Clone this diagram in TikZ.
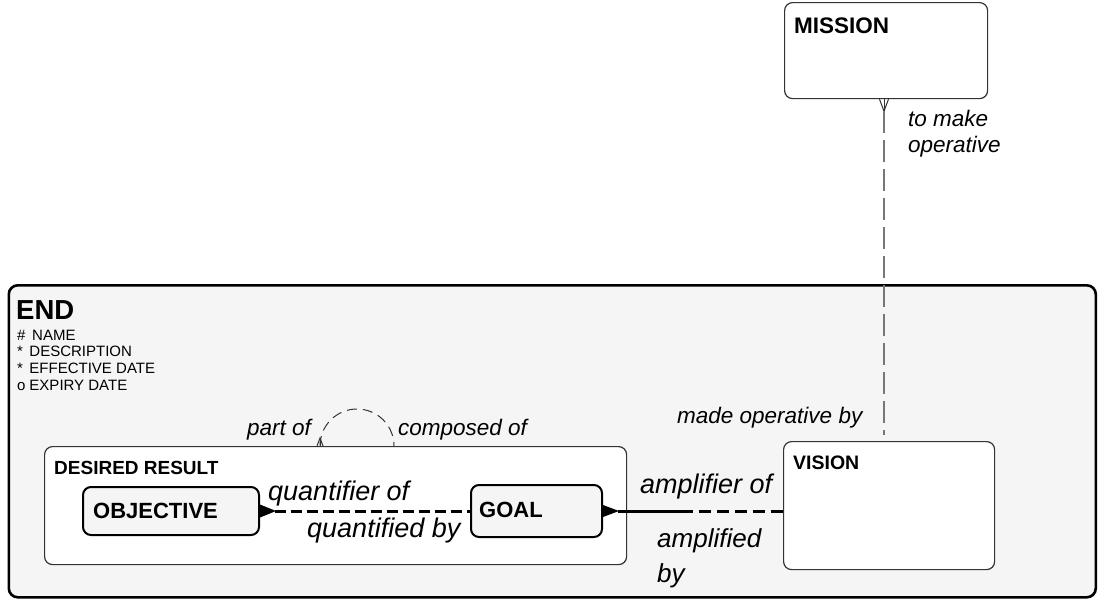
\documentclass[tikz,border=0pt]{standalone}
\usepackage{fontspec}
\setmainfont{Liberation Sans}
\usetikzlibrary{calc}
\definecolor{endfill}{HTML}{F5F5F5}
\definecolor{boxline}{HTML}{333333}
\definecolor{grayline}{HTML}{777777}
\newcommand\myfs[1]{\fontsize{#1}{#1}\selectfont}
\begin{document}
\begin{tikzpicture}[x=1pt,y=-1pt,
  ent/.style={draw=boxline, line width=1.2pt, rounded corners=8pt, fill=white, inner sep=0pt, anchor=north west},
  subent/.style={draw=black, line width=2pt, rounded corners=8pt, fill=endfill, inner sep=0pt, anchor=north west},
  lbl/.style={anchor=base west, inner sep=0pt},
  title/.style={lbl, font=\bfseries\myfs{#1}},
  rel/.style={lbl, font=\itshape\myfs{#1}},
  attr/.style={lbl, font=\myfs{15}},
  heavy/.style={line width=3pt, draw=black},
  crowfill/.style={fill=black},
  thincrow/.style={draw=boxline, line width=1pt},
  optline/.style={draw=grayline, line width=1.4pt, dash pattern=on 22pt off 7pt},
  loopline/.style={draw=boxline, line width=1pt, dash pattern=on 10pt off 6pt}
]
\useasboundingbox (0,0) rectangle (1098,606);

% END supertype box
\node[ent, draw=black, line width=2.6pt, fill=endfill, rounded corners=9pt,
      minimum width=1087pt, minimum height=312pt] (endbox) at (7.5,284) {};
\node[title=27.5] (endtitle) at (16,319) {END};
\node[attr] (a1) at (17,340) {\makebox[15pt][l]{\#}NAME};
\node[attr] (a2) at (17,356.5) {\makebox[12.3pt][l]{*}DESCRIPTION};
\node[attr] (a3) at (17,373) {\makebox[12.3pt][l]{*}EFFECTIVE DATE};
\node[attr] (a4) at (17,390) {\makebox[12.3pt][l]{o}EXPIRY DATE};

% MISSION
\node[ent, minimum width=203pt, minimum height=96pt] (mission) at (784,2) {};
\node[title=22.5] (missiont) at (794,33) {MISSION};

% VISION
\node[ent, minimum width=211pt, minimum height=128pt] (vision) at (783,441) {};
\node[title=19.5] (visiont) at (793,469) {VISION};

% DESIRED RESULT
\node[ent, minimum width=582pt, minimum height=118pt] (dr) at (44,446) {};
\node[title=19] (drt) at (54,474) {DESIRED RESULT};

% OBJECTIVE and GOAL
\node[subent, minimum width=176pt, minimum height=48pt] (obj) at (82,486) {};
\node[title=22] (objt) at (93,518) {OBJECTIVE};
\node[subent, minimum width=131pt, minimum height=52pt] (goal) at (470,484) {};
\node[title=22] (goalt) at (479,517) {GOAL};

% MISSION -- VISION
\coordinate (vx) at (884,0);
\coordinate (mb) at (mission.south -| vx);
\coordinate (vt) at ($(vision.north -| vx)+(0,-6)$);
\draw[thincrow] (mb) ++(-4.5,0) -- ++(4.5,12) -- ++(4.5,-12);
\draw[thincrow] (mb) -- ++(0,12);
\draw[optline] ($(mb)+(0,12)$) -- (vt);
\node[rel=22.5] (l1a) at (908,126) {to make};
\node[rel=22.5] (l1b) at (908,152) {operative};
\node[rel=22.5] (l2) at (677,423) {made operative by};

% recursive loop on DESIRED RESULT
\coordinate (lx) at (320,0);
\coordinate (lb) at (dr.north -| lx);
\draw[loopline] (lb) arc[start angle=180, end angle=360, radius=37];
\draw[thincrow] (lb) ++(-3,0) -- ++(3,-8) -- ++(3,8);
\draw[thincrow] (lb) -- ++(0,-8);
\node[rel=22.5] (l3) at (247,435) {part of};
\node[rel=22.5] (l4) at (398,435) {composed of};

% OBJECTIVE -- GOAL
\fill[crowfill] (obj.east) ++(0,-6.5) -- ++(16,6.5) -- ++(-16,6.5) -- cycle;
\draw[heavy, dash pattern=on 11pt off 5pt] ($(obj.east)+(15,0)$) -- (obj.east -| goal.west);
\node[rel=27] (l5) at (268,500) {quantifier of};
\node[rel=27] (l6) at (307,537) {quantified by};

% GOAL -- VISION
\coordinate (gv) at (goal.east -| vision.west);
\coordinate (gvmid) at ($(goal.east)!0.5!(gv)$);
\fill[crowfill] (goal.east) ++(0,-6) -- ++(16,6) -- ++(-16,6) -- cycle;
\draw[heavy] ($(goal.east)+(15,0)$) -- (gvmid);
\draw[heavy, dash pattern=on 12pt off 6pt, dash phase=12pt] (gvmid) -- (gv);
\node[rel=27] (l7) at (640,493) {amplifier of};
\node[rel=26] (l8a) at (657,547) {amplified};
\node[rel=26] (l8b) at (657,582) {by};
\end{tikzpicture}
\end{document}
